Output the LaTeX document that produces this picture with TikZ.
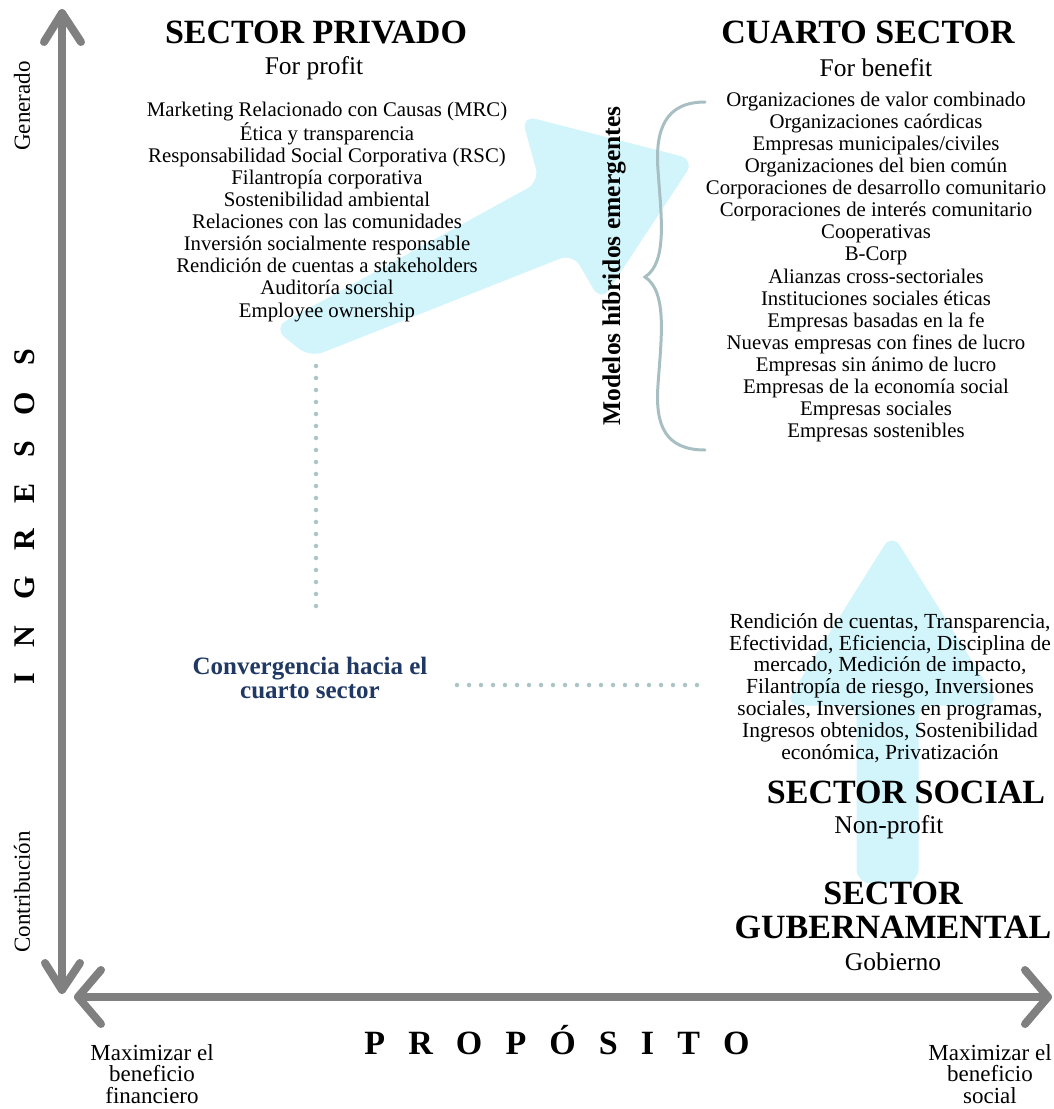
\documentclass[tikz,border=0pt]{standalone}
\usepackage{fontspec}
\setmainfont{Liberation Serif}
\definecolor{axisgray}{HTML}{808080}
\definecolor{lightcyan}{HTML}{D2F5FC}
\definecolor{dotcol}{HTML}{A9C5C6}
\definecolor{bracecol}{HTML}{A7BFC3}
\definecolor{navy}{HTML}{1F3864}
\begin{document}
\begin{tikzpicture}[x=1pt,y=-1pt,
  every node/.style={inner sep=0pt, outer sep=0pt, align=center},
  titletxt/.style={font=\fontsize{34}{34}\selectfont\bfseries},
  subtxt/.style={font=\fontsize{25.5}{26}\selectfont},
  listtxt/.style={font=\fontsize{20.8}{22.1}\selectfont},
  sidetxt/.style={font=\fontsize{21.5}{21.9}\selectfont},
  axlabel/.style={font=\fontsize{23}{21.5}\selectfont},
  axisline/.style={draw=axisgray, line width=8pt, line cap=round, line join=round},
  bigarrow/.style={fill=lightcyan, draw=lightcyan, line width=1pt, rounded corners=14pt},
  dotline/.style={draw=dotcol, line width=4.5pt, line cap=round, dash pattern=on 0pt off 12pt}
]
\useasboundingbox (0,0) rectangle (1053,1109);

% light cyan arrows
\path[bigarrow] (274,328) -- (540,182) -- (522,116) -- (694,160) -- (601,301) -- (573,253) -- (310,357) -- cycle;
\path[bigarrow] (857,883) -- (857,705) -- (785,705) -- (892,534) -- (999,705) -- (918,705) -- (918,883) -- cycle;

% axes
\coordinate (vtop) at (62,13);
\coordinate (vbot) at (62,990);
\coordinate (hleft) at (78,997);
\coordinate (hright) at (1048,997);
\draw[axisline] (vtop) -- (vbot);
\draw[axisline] (hleft) -- (hright);
\draw[axisline] (44,42) -- (vtop) -- (81,42);
\draw[axisline] (45,963) -- (vbot) -- (80,963);
\draw[axisline] (101,970) -- (hleft) -- (101,1024);
\draw[axisline] (1025,970) -- (hright) -- (1025,1024);

% axis labels
\node[rotate=90, axlabel] (gen) at (22,106) {Generado};
\node[rotate=90, axlabel] (contr) at (22,892) {Contribución};
\node[rotate=90, font=\fontsize{30}{34}\selectfont\bfseries] (ingr) at (25,517) {I\hskip0.86em N\hskip0.86em G\hskip0.86em R\hskip0.86em E\hskip0.86em S\hskip0.86em O\hskip0.86em S};
\node[font=\fontsize{34}{36}\selectfont\bfseries] (prop) at (557,1040) {P\hskip0.68em R\hskip0.68em O\hskip0.68em P\hskip0.68em Ó\hskip0.68em S\hskip0.68em I\hskip0.68em T\hskip0.68em O};
\node[axlabel] (maxf) at (152,1074) {Maximizar el\\beneficio\\financiero};
\node[axlabel] (maxs) at (990,1074) {Maximizar el\\beneficio\\social};

% sector privado
\node[titletxt] (sp) at (316,32) {SECTOR PRIVADO};
\node[subtxt] (fp) at (314,68) {For profit};
\node[listtxt] (splist) at (327,212) {Marketing Relacionado con Causas (MRC)\\Ética y transparencia\\Responsabilidad Social Corporativa (RSC)\\Filantropía corporativa\\Sostenibilidad ambiental\\Relaciones con las comunidades\\Inversión socialmente responsable\\Rendición de cuentas a stakeholders\\Auditoría social\\Employee ownership};

% cuarto sector
\node[titletxt] (cs) at (868,32) {CUARTO SECTOR};
\node[subtxt] (fb) at (876,68) {For benefit};
\node[listtxt] (cslist) at (876,267) {Organizaciones de valor combinado\\Organizaciones caórdicas\\Empresas municipales/civiles\\Organizaciones del bien común\\Corporaciones de desarrollo comunitario\\Corporaciones de interés comunitario\\Cooperativas\\B-Corp\\Alianzas cross-sectoriales\\Instituciones sociales éticas\\Empresas basadas en la fe\\Nuevas empresas con fines de lucro\\Empresas sin ánimo de lucro\\Empresas de la economía social\\Empresas sociales\\Empresas sostenibles};

% brace and hybrid label
\draw[draw=bracecol, line width=3pt, line cap=round] (705,102) .. controls (665,102) and (655,130) .. (658,170) .. controls (661,215) and (668,262) .. (645,277) .. controls (668,292) and (661,340) .. (658,385) .. controls (655,425) and (665,450) .. (705,450);
\node[rotate=90, font=\fontsize{25.5}{27}\selectfont\bfseries] (hyb) at (614,266) {Modelos híbridos emergentes};

% convergence
\node[font=\fontsize{25}{23.5}\selectfont\bfseries, text=navy] (conv) at (310,678) {Convergencia hacia el\\cuarto sector};
\coordinate (dv1) at (316,366);
\coordinate (dv2) at (316,610);
\coordinate (dh1) at (457,685);
\coordinate (dh2) at (700,685);
\draw[dotline] (dv1) -- (dv2);
\draw[dotline] (dh1) -- (dh2);

% social sector
\node[sidetxt] (sslist) at (890,688) {Rendición de cuentas, Transparencia,\\Efectividad, Eficiencia, Disciplina de\\mercado, Medición de impacto,\\Filantropía de riesgo, Inversiones\\sociales, Inversiones en programas,\\Ingresos obtenidos, Sostenibilidad\\económica, Privatización};
\node[titletxt] (ss) at (906,792) {SECTOR SOCIAL};
\node[subtxt] (np) at (889,827) {Non-profit};
\node[titletxt] (sg) at (893,910) {SECTOR\\GUBERNAMENTAL};
\node[subtxt] (gob) at (893,962) {Gobierno};
\end{tikzpicture}
\end{document}
